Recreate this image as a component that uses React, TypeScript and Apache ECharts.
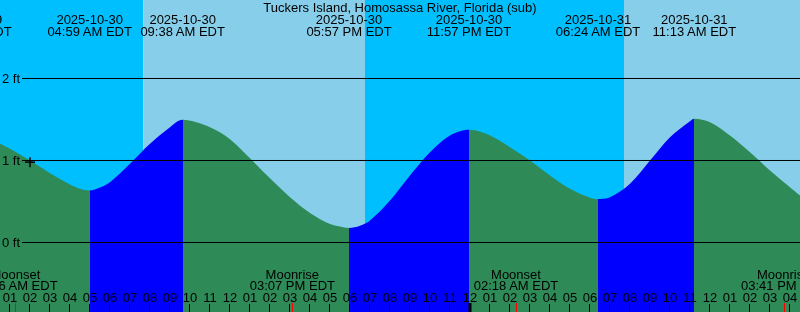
import React, { useEffect, useRef } from 'react';
import * as echarts from 'echarts';

const TITLE = 'Tuckers Island, Homosassa River, Florida (sub)';

// hours since 2025-10-30 00:00 EDT
const tideHours = [0.5, 1, 2, 3, 4, 4.5, 4.983, 5.5, 6, 7, 8, 9, 9.633, 11, 12, 13, 14, 15, 16, 17, 17.5, 17.95, 18.5, 19, 20, 21, 22, 23, 23.95, 25, 26, 27, 28, 29, 30, 30.4, 31, 32, 33, 34, 35, 35.217, 36, 37, 38, 39, 40, 40.5];
const tideFeet = [1.204, 1.143, 1.0, 0.845, 0.707, 0.655, 0.634, 0.67, 0.735, 0.96, 1.204, 1.406, 1.496, 1.406, 1.26, 1.028, 0.782, 0.552, 0.36, 0.225, 0.195, 0.177, 0.205, 0.268, 0.512, 0.817, 1.101, 1.305, 1.374, 1.305, 1.162, 1.0, 0.817, 0.655, 0.545, 0.53, 0.552, 0.716, 1.0, 1.284, 1.479, 1.509, 1.467, 1.305, 1.101, 0.878, 0.674, 0.573];

const lowTideHours = [4.983, 17.95, 30.4];
const highTideHours = [9.633, 23.95, 35.217];

const tideEventHours = [-1.05, 4.983, 9.633, 17.95, 23.95, 30.4, 35.217];
const tideEventDates = ['2025-10-29', '2025-10-30', '2025-10-30', '2025-10-30', '2025-10-30', '2025-10-31', '2025-10-31'];
const tideEventTimes = ['10:57 PM EDT', '04:59 AM EDT', '09:38 AM EDT', '05:57 PM EDT', '11:57 PM EDT', '06:24 AM EDT', '11:13 AM EDT'];

const moonEventHours = [1.267, 15.117, 26.3, 39.683];
const moonEventNames = ['Moonset', 'Moonrise', 'Moonset', 'Moonrise'];
const moonEventTimes = ['01:16 AM EDT', '03:07 PM EDT', '02:18 AM EDT', '03:41 PM EDT'];

const hourTicks = [1, 2, 3, 4, 5, 6, 7, 8, 9, 10, 11, 12, 13, 14, 15, 16, 17, 18, 19, 20, 21, 22, 23, 24, 25, 26, 27, 28, 29, 30, 31, 32, 33, 34, 35, 36, 37, 38, 39, 40];
const midnightHours = [24];

const bandStartHours = [0.5, 7.665, 18.75, 31.7];
const bandIsDay = [0, 1, 0, 1];

const footTicks = [0, 1, 2];
const nowMark = [2.0, 0.98];

const X_MIN = 0.5;
const X_MAX = 40.5;
const Y_MIN = -0.8476;
const Y_MAX = 2.9573;

const NIGHT = '#00BFFF';
const DAY = '#87CEEB';
const EBB = '#2E8B57';
const FLOOD = '#0000FF';
const FONT = 'Liberation Sans';

function hourLabel(v: number) {
  const h = Math.round(v) % 12;
  const hh = h === 0 ? 12 : h;
  return (hh < 10 ? '0' : '') + hh;
}

function buildOption() {
  const bandData = bandStartHours.map((s, i) => [s, i + 1 < bandStartHours.length ? bandStartHours[i + 1] : X_MAX, bandIsDay[i]]);
  const tideData = tideHours.map((h, i) => [h, tideFeet[i]]);
  const pieces: any[] = [{ lt: lowTideHours[0], color: EBB }];
  lowTideHours.forEach((lo, i) => {
    pieces.push({ gte: lo, lt: highTideHours[i], color: FLOOD });
    const nextLo = i + 1 < lowTideHours.length ? lowTideHours[i + 1] : undefined;
    if (nextLo !== undefined) pieces.push({ gte: highTideHours[i], lt: nextLo, color: EBB });
    else pieces.push({ gte: highTideHours[i], color: EBB });
  });
  const textStyle = (text: string, x: number, y: number, align = 'center') => ({
    type: 'text',
    x,
    y,
    style: {
      text,
      fill: '#000',
      fontSize: 13,
      fontFamily: FONT,
      align,
      verticalAlign: 'middle',
      textAlign: align,
      textVerticalAlign: 'middle',
    },
  });

  return {
    animation: false,
    title: {
      text: TITLE,
      left: 'center',
      top: 0,
      padding: [1, 0, 0, 0],
      textStyle: { fontSize: 13, fontWeight: 'normal', fontFamily: FONT, color: '#000', lineHeight: 13 },
    },
    grid: { left: 0, right: 0, top: 0, bottom: 0 },
    xAxis: {
      type: 'value',
      min: X_MIN,
      max: X_MAX,
      axisLine: { show: false, onZero: false },
      splitLine: { show: false },
      axisTick: { show: false },
      axisLabel: { show: false },
    },
    yAxis: { type: 'value', min: Y_MIN, max: Y_MAX, show: false, splitLine: { show: false } },
    visualMap: {
      type: 'piecewise',
      show: false,
      dimension: 0,
      seriesIndex: 1,
      pieces,
    },
    series: [
      {
        type: 'custom',
        z: 0,
        data: bandData,
        renderItem: (params: any, api: any) => {
          const p0 = api.coord([api.value(0), Y_MAX]);
          const p1 = api.coord([api.value(1), Y_MIN]);
          return {
            type: 'rect',
            shape: { x: p0[0], y: p0[1], width: p1[0] - p0[0], height: p1[1] - p0[1] },
            style: { fill: api.value(2) ? DAY : NIGHT },
          };
        },
      },
      {
        type: 'line',
        z: 1,
        data: tideData,
        smooth: 0.33,
        showSymbol: false,
        symbol: 'none',
        lineStyle: { width: 0 },
        areaStyle: { opacity: 1, origin: 'start' },
      },
      {
        type: 'custom',
        z: 3,
        data: footTicks.map((f) => [X_MIN, f]),
        renderItem: (params: any, api: any) => {
          const y = api.coord([X_MIN, api.value(1)])[1];
          return {
            type: 'group',
            children: [
              { type: 'line', shape: { x1: 22, y1: y, x2: 800, y2: y }, style: { stroke: '#000', lineWidth: 1 } },
              textStyle(api.value(1) + ' ft', 2, y, 'left'),
            ],
          };
        },
      },
      {
        type: 'custom',
        z: 4,
        clip: false,
        data: hourTicks.map((h) => [h, Y_MIN]),
        renderItem: (params: any, api: any) => {
          const p = api.coord([api.value(0), Y_MIN]);
          const x = Math.round(p[0]) - 0.5;
          return {
            type: 'group',
            children: [
              { type: 'line', shape: { x1: x, y1: p[1] - 8, x2: x, y2: p[1] }, style: { stroke: '#000', lineWidth: 1 } },
              textStyle(hourLabel(api.value(0)), p[0], 297),
            ],
          };
        },
      },
      {
        type: 'custom',
        z: 4,
        clip: false,
        data: tideEventHours.map((h, i) => [h, i]),
        renderItem: (params: any, api: any) => {
          const x = api.coord([api.value(0), 0])[0];
          const i = api.value(1);
          return {
            type: 'group',
            children: [textStyle(tideEventDates[i], x, 19.5), textStyle(tideEventTimes[i], x, 31.5)],
          };
        },
      },
      {
        type: 'custom',
        z: 4,
        clip: false,
        data: moonEventHours.map((h, i) => [h, i]),
        renderItem: (params: any, api: any) => {
          const p = api.coord([api.value(0), Y_MIN]);
          const i = api.value(1);
          const x = Math.round(p[0]) + 0.5;
          return {
            type: 'group',
            children: [
              textStyle(moonEventNames[i], p[0], 274),
              textStyle(moonEventTimes[i], p[0], 285.5),
              { type: 'line', shape: { x1: x, y1: p[1] - 9, x2: x, y2: p[1] }, style: { stroke: '#FF0000', lineWidth: 1 } },
            ],
          };
        },
      },
      {
        type: 'custom',
        z: 5,
        data: midnightHours.map((h) => [h, 0]),
        renderItem: (params: any, api: any) => {
          const p = api.coord([api.value(0), Y_MIN]);
          return {
            type: 'line',
            shape: { x1: p[0], y1: p[1] - 9, x2: p[0], y2: p[1] },
            style: { stroke: '#000', lineWidth: 3 },
          };
        },
      },
      {
        type: 'custom',
        z: 5,
        data: [nowMark],
        renderItem: (params: any, api: any) => {
          const p = api.coord([api.value(0), api.value(1)]);
          return {
            type: 'group',
            children: [
              { type: 'line', shape: { x1: p[0] - 5, y1: p[1], x2: p[0] + 5, y2: p[1] }, style: { stroke: '#000', lineWidth: 1.5 } },
              { type: 'line', shape: { x1: p[0], y1: p[1] - 5, x2: p[0], y2: p[1] + 5 }, style: { stroke: '#000', lineWidth: 1.5 } },
            ],
          };
        },
      },
    ],
  };
}

export default function App() {
  const ref = useRef<HTMLDivElement>(null);
  useEffect(() => {
    document.body.style.margin = '0';
    const chart = echarts.init(ref.current!, null, { renderer: 'svg' });
    chart.setOption(buildOption() as any);
    return () => chart.dispose();
  }, []);
  return <div ref={ref} style={{ position: 'fixed', left: 0, top: 0, width: 800, height: 312 }} />;
}
